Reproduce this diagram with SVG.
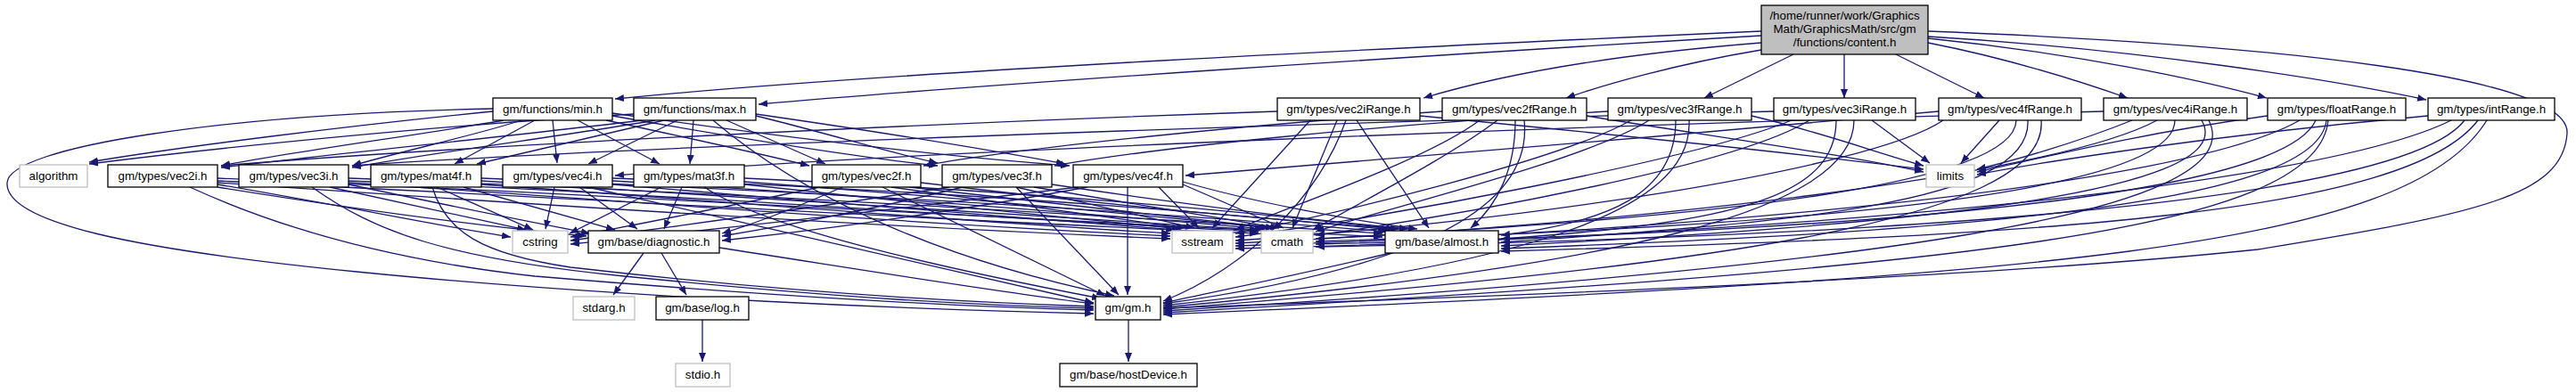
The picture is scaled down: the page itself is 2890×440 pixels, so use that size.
<svg xmlns="http://www.w3.org/2000/svg" width="2890" height="440" viewBox="0 0 2890 440">
<style>
.n rect{fill:#fff;stroke:#000;stroke-width:1.3}
.s rect{fill:#fff;stroke:#bfbfbf;stroke-width:1.3}
.r rect{fill:#bfbfbf;stroke:#000;stroke-width:1.3}
text{font-family:"Liberation Sans",Arial,sans-serif;font-size:13.33px;fill:#000;text-anchor:middle}
#edges path{fill:none;stroke:#191970;stroke-width:1.3;marker-end:url(#ah)}
</style>
<defs>
<marker id="ah" markerUnits="userSpaceOnUse" markerWidth="11" markerHeight="8" refX="10" refY="4" orient="auto"><path d="M0,0 L10,4 L0,8 z" fill="#191970"/></marker>
</defs>
<rect width="2890" height="440" fill="#fff"/>
<g id="edges">
<path d="M1976,35 C1600,52 1000,80 690,111"/>
<path d="M1976,40 C1600,62 1100,95 851,117"/>
<path d="M1976,48 C1800,62 1680,85 1597,110"/>
<path d="M1976,56 C1880,72 1800,95 1757,110"/>
<path d="M2012,61 L1912,110"/>
<path d="M2069,61 L2069,110"/>
<path d="M2127,61 L2226,110"/>
<path d="M2163,48 C2250,65 2330,90 2387,110"/>
<path d="M2163,43 C2330,60 2470,90 2543,110"/>
<path d="M2163,41 C2400,55 2620,90 2722,112"/>
<path d="M2163,35 C2550,50 2885,85 2880,150 C2875,220 2780,240 2533,280 C2200,315 1600,335 1305,346"/>
<path d="M553,125 C400,140 200,165 100,182"/>
<path d="M553,122 C250,128 10,165 8,205 C5,250 150,280 400,305 C700,335 1050,348 1227,352"/>
<path d="M565,135 C480,150 330,170 248,186"/>
<path d="M585,135 C540,150 450,170 395,186"/>
<path d="M600,135 L510,184"/>
<path d="M620,135 L625,183"/>
<path d="M648,135 L740,184"/>
<path d="M680,135 C750,150 850,172 908,186"/>
<path d="M687,130 C800,150 950,175 1052,186"/>
<path d="M687,127 C850,150 1050,175 1200,186"/>
<path d="M711,128 C500,140 250,165 100,184"/>
<path d="M720,135 C600,150 380,172 248,188"/>
<path d="M735,135 C650,150 480,172 395,188"/>
<path d="M745,135 L535,184"/>
<path d="M760,135 L660,184"/>
<path d="M778,135 L774,184"/>
<path d="M815,135 L926,184"/>
<path d="M848,130 C930,150 1000,172 1052,183"/>
<path d="M848,128 C1000,150 1120,170 1195,184"/>
<path d="M800,135 C900,220 1050,290 1250,332"/>
<path d="M244,207 C380,230 500,255 573,266"/>
<path d="M244,210 C400,235 550,255 658,265"/>
<path d="M244,205 C600,230 1000,255 1313,268"/>
<path d="M244,203 C700,225 1100,250 1412,262"/>
<path d="M244,200 C700,220 1200,245 1551,266"/>
<path d="M213,210 C300,250 420,290 600,310 C900,335 1100,345 1227,348"/>
<path d="M370,210 L590,258"/>
<path d="M391,207 C500,230 600,250 662,262"/>
<path d="M391,205 C700,225 1000,250 1313,265"/>
<path d="M391,203 C800,220 1100,245 1412,260"/>
<path d="M391,200 C800,215 1200,240 1551,262"/>
<path d="M350,210 C420,260 500,290 700,310 C950,335 1100,343 1227,346"/>
<path d="M490,210 L598,258"/>
<path d="M520,210 L690,258"/>
<path d="M540,207 C800,225 1100,250 1313,262"/>
<path d="M540,203 C850,220 1150,240 1412,258"/>
<path d="M540,200 C900,215 1250,235 1556,260"/>
<path d="M485,210 C500,260 540,285 640,300 C900,330 1100,340 1227,344"/>
<path d="M622,210 L612,257"/>
<path d="M650,210 L715,257"/>
<path d="M687,207 C900,225 1150,245 1318,258"/>
<path d="M687,203 C950,218 1200,238 1418,257"/>
<path d="M687,200 C1000,212 1300,232 1560,258"/>
<path d="M660,210 L1227,340"/>
<path d="M742,210 L639,262"/>
<path d="M765,210 L745,257"/>
<path d="M835,207 C1000,225 1200,245 1325,257"/>
<path d="M835,204 C1050,220 1250,238 1425,256"/>
<path d="M835,200 C1100,212 1350,232 1565,257"/>
<path d="M790,210 C850,250 1000,290 1235,335"/>
<path d="M920,210 C800,235 700,255 640,266"/>
<path d="M945,210 C900,230 850,250 810,262"/>
<path d="M1000,210 L1330,256"/>
<path d="M1020,210 L1430,256"/>
<path d="M1033,205 C1200,225 1400,245 1570,257"/>
<path d="M990,210 L1240,332"/>
<path d="M1065,210 C900,235 750,255 640,270"/>
<path d="M1080,210 C1000,230 900,250 810,265"/>
<path d="M1140,210 L1340,256"/>
<path d="M1160,210 L1435,256"/>
<path d="M1180,207 C1300,225 1450,245 1580,257"/>
<path d="M1140,210 L1255,331"/>
<path d="M1210,210 C1000,235 800,258 640,274"/>
<path d="M1220,210 C1100,232 950,255 810,270"/>
<path d="M1300,210 L1345,256"/>
<path d="M1327,207 L1440,256"/>
<path d="M1327,204 C1400,225 1500,245 1590,257"/>
<path d="M1265,210 L1265,331"/>
<path d="M1433,125 C1000,140 500,165 248,186"/>
<path d="M1593,130 C1800,150 2000,170 2158,190"/>
<path d="M1470,135 L1360,256"/>
<path d="M1500,135 L1450,256"/>
<path d="M1522,135 L1603,256"/>
<path d="M1510,135 C1480,220 1400,300 1305,338"/>
<path d="M1618,125 C1400,140 1150,165 1036,186"/>
<path d="M1780,130 C1900,150 2050,170 2158,193"/>
<path d="M1660,135 C1600,180 1450,230 1386,258"/>
<path d="M1680,135 C1620,180 1520,230 1473,258"/>
<path d="M1700,135 C1700,190 1680,230 1650,256"/>
<path d="M1710,135 C1720,230 1600,300 1305,341"/>
<path d="M1804,125 C1550,140 1300,165 1183,186"/>
<path d="M1965,130 C2050,150 2100,170 2158,186"/>
<path d="M1830,135 C1750,180 1500,240 1386,262"/>
<path d="M1850,135 C1780,180 1550,235 1476,260"/>
<path d="M1880,135 C1880,220 1800,250 1684,264"/>
<path d="M1895,135 C1900,240 1700,300 1305,343"/>
<path d="M1990,125 C1400,140 700,165 395,186"/>
<path d="M2100,135 L2165,183"/>
<path d="M2010,135 C1900,180 1550,245 1386,266"/>
<path d="M2030,135 C1950,185 1650,240 1476,264"/>
<path d="M2060,135 C2060,220 1950,250 1684,268"/>
<path d="M2080,135 C2080,240 1800,300 1305,345"/>
<path d="M2175,125 C1900,150 1550,180 1330,197"/>
<path d="M2243,135 L2200,183"/>
<path d="M2180,135 C2100,190 1700,250 1386,270"/>
<path d="M2262,135 C2260,220 1800,250 1476,268"/>
<path d="M2275,135 C2280,230 2000,250 1684,272"/>
<path d="M2290,135 C2300,250 1900,300 1305,347"/>
<path d="M2360,125 C1800,140 1000,170 690,197"/>
<path d="M2392,135 C2330,160 2260,180 2218,190"/>
<path d="M2420,135 C2300,200 1800,255 1386,273"/>
<path d="M2440,135 C2440,220 2000,255 1476,271"/>
<path d="M2470,135 C2520,220 2100,255 1684,276"/>
<path d="M2478,135 C2530,240 2100,300 1305,349"/>
<path d="M2544,130 C2400,150 2300,175 2218,193"/>
<path d="M2580,135 C2450,210 1900,260 1386,276"/>
<path d="M2598,135 C2560,220 2100,260 1476,274"/>
<path d="M2610,135 C2600,230 2200,260 1684,279"/>
<path d="M2612,135 C2600,260 2200,300 1305,351"/>
<path d="M2724,130 C2500,150 2300,180 2218,196"/>
<path d="M2750,135 C2600,210 2000,265 1386,279"/>
<path d="M2765,135 C2700,220 2200,265 1476,277"/>
<path d="M2780,135 C2700,240 2300,265 1684,282"/>
<path d="M2790,135 C2700,280 2300,310 1305,353"/>
<path d="M722,284 L688,331"/>
<path d="M742,284 L770,331"/>
<path d="M807,278 C950,300 1100,325 1227,341"/>
<path d="M1560,284 C1450,310 1350,330 1305,340"/>
<path d="M788,359 L788,406"/>
<path d="M1266,359 L1266,406"/>
</g>
<g id="root" class="r"><rect x="1976" y="6" width="187" height="55"/><text x="2069.5" y="22">/home/runner/work/Graphics</text><text x="2069.5" y="37">Math/GraphicsMath/src/gm</text><text x="2069.5" y="52">/functions/content.h</text></g>
<g id="min" class="n"><rect x="553" y="110" width="134" height="25"/><text x="620" y="127">gm/functions/min.h</text></g>
<g id="max" class="n"><rect x="711" y="110" width="137" height="25"/><text x="779.5" y="127">gm/functions/max.h</text></g>
<g id="vec2iRange" class="n"><rect x="1433" y="110" width="160" height="25"/><text x="1513" y="127">gm/types/vec2iRange.h</text></g>
<g id="vec2fRange" class="n"><rect x="1618" y="110" width="162" height="25"/><text x="1699" y="127">gm/types/vec2fRange.h</text></g>
<g id="vec3fRange" class="n"><rect x="1804" y="110" width="161" height="25"/><text x="1884.5" y="127">gm/types/vec3fRange.h</text></g>
<g id="vec3iRange" class="n"><rect x="1990" y="110" width="159" height="25"/><text x="2069.5" y="127">gm/types/vec3iRange.h</text></g>
<g id="vec4fRange" class="n"><rect x="2175" y="110" width="160" height="25"/><text x="2255" y="127">gm/types/vec4fRange.h</text></g>
<g id="vec4iRange" class="n"><rect x="2360" y="110" width="161" height="25"/><text x="2440.5" y="127">gm/types/vec4iRange.h</text></g>
<g id="floatRange" class="n"><rect x="2544" y="110" width="155" height="25"/><text x="2621.5" y="127">gm/types/floatRange.h</text></g>
<g id="intRange" class="n"><rect x="2724" y="110" width="142" height="25"/><text x="2795" y="127">gm/types/intRange.h</text></g>
<g id="algorithm" class="s"><rect x="22" y="185" width="76" height="25"/><text x="60" y="202">algorithm</text></g>
<g id="vec2i" class="n"><rect x="121" y="185" width="123" height="25"/><text x="182.5" y="202">gm/types/vec2i.h</text></g>
<g id="vec3i" class="n"><rect x="268" y="185" width="123" height="25"/><text x="329.5" y="202">gm/types/vec3i.h</text></g>
<g id="mat4f" class="n"><rect x="416" y="185" width="124" height="25"/><text x="478" y="202">gm/types/mat4f.h</text></g>
<g id="vec4i" class="n"><rect x="564" y="185" width="123" height="25"/><text x="625.5" y="202">gm/types/vec4i.h</text></g>
<g id="mat3f" class="n"><rect x="711" y="185" width="124" height="25"/><text x="773" y="202">gm/types/mat3f.h</text></g>
<g id="vec2f" class="n"><rect x="911" y="185" width="122" height="25"/><text x="972" y="202">gm/types/vec2f.h</text></g>
<g id="vec3f" class="n"><rect x="1057" y="185" width="123" height="25"/><text x="1118.5" y="202">gm/types/vec3f.h</text></g>
<g id="vec4f" class="n"><rect x="1204" y="185" width="123" height="25"/><text x="1265.5" y="202">gm/types/vec4f.h</text></g>
<g id="limits" class="s"><rect x="2161" y="185" width="54" height="25"/><text x="2188" y="202">limits</text></g>
<g id="cstring" class="s"><rect x="575" y="259" width="62" height="25"/><text x="606" y="276">cstring</text></g>
<g id="diagnostic" class="n"><rect x="660" y="259" width="147" height="25"/><text x="733.5" y="276">gm/base/diagnostic.h</text></g>
<g id="sstream" class="s"><rect x="1315" y="259" width="68" height="25"/><text x="1349" y="276">sstream</text></g>
<g id="cmath" class="s"><rect x="1415" y="259" width="58" height="25"/><text x="1444" y="276">cmath</text></g>
<g id="almost" class="n"><rect x="1554" y="259" width="127" height="25"/><text x="1617.5" y="276">gm/base/almost.h</text></g>
<g id="stdarg" class="s"><rect x="643" y="333" width="69" height="26"/><text x="677.5" y="350">stdarg.h</text></g>
<g id="log" class="n"><rect x="736" y="333" width="104" height="26"/><text x="788" y="350">gm/base/log.h</text></g>
<g id="gm" class="n"><rect x="1229" y="333" width="73" height="26"/><text x="1265.5" y="350">gm/gm.h</text></g>
<g id="stdio" class="s"><rect x="758" y="408" width="61" height="26"/><text x="788.5" y="425">stdio.h</text></g>
<g id="hostDevice" class="n"><rect x="1189" y="408" width="154" height="26"/><text x="1266" y="425">gm/base/hostDevice.h</text></g>
</svg>
